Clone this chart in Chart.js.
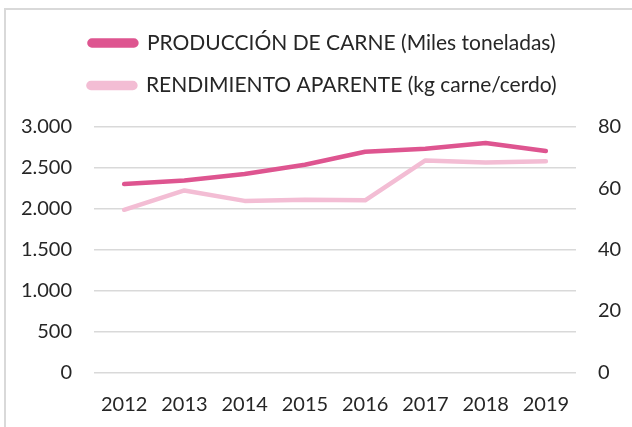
<!DOCTYPE html>
<html>
<head>
<meta charset="utf-8">
<script src="https://cdn.jsdelivr.net/npm/chart.js@4.4.0/dist/chart.umd.min.js"></script>
<style>
  html, body { margin: 0; padding: 0; background: #fff; }
  #wrap { position: relative; width: 632px; height: 427px; }
  #frame { position: absolute; left: 4px; top: 8px; right: 0; bottom: 0; border-top: 2px solid #d9d9d9; border-left: 2px solid #d9d9d9; pointer-events: none; }
  canvas { position: absolute; left: 0; top: 0; }
</style>
</head>
<body>
<div id="wrap">
  <canvas id="c" width="632" height="427"></canvas>
  <div id="frame"></div>
</div>
<script>
const years = ['2012', '2013', '2014', '2015', '2016', '2017', '2018', '2019'];
const produccion = [2302, 2346, 2424, 2538, 2698, 2734, 2804, 2706];
const rendimiento = [53.0, 59.3, 55.9, 56.3, 56.1, 69.1, 68.4, 68.8];
const leftTicks = [0, 500, 1000, 1500, 2000, 2500, 3000];
const rightTicks = [0, 20, 40, 60, 80];
const labelProd = 'PRODUCCIÓN DE CARNE (Miles toneladas)';
const labelRend = 'RENDIMIENTO APARENTE (kg carne/cerdo)';

const FONT = 'Lato';
const TXT = '#262626';

const legendHeightPlugin = {
  id: 'legendHeight',
  beforeLayout(chart) {
    const lg = chart.legend;
    if (lg && !lg._patched) {
      const protoFit = Object.getPrototypeOf(lg).fit;
      lg.fit = function () { protoFit.call(this); this.height = 116; };
      lg._patched = true;
    }
  }
};

new Chart(document.getElementById('c'), {
  type: 'line',
  data: {
    labels: years,
    datasets: [
      { label: labelProd, data: produccion, yAxisID: 'y', borderColor: '#DE5590', backgroundColor: '#DE5590',
        borderWidth: 4.5, pointRadius: 0, tension: 0, borderCapStyle: 'round', borderJoinStyle: 'round' },
      { label: labelRend, data: rendimiento, yAxisID: 'y2', borderColor: '#F3BDD4', backgroundColor: '#F3BDD4',
        borderWidth: 4.5, pointRadius: 0, tension: 0, borderCapStyle: 'round', borderJoinStyle: 'round' }
    ]
  },
  plugins: [legendHeightPlugin],
  options: {
    responsive: false,
    animation: false,
    layout: { padding: { top: 11, bottom: 0, left: 13, right: 0 } },
    plugins: {
      tooltip: { enabled: false },
      legend: {
        position: 'top',
        align: 'center',
        labels: {
          font: { family: FONT, size: 21 },
          color: TXT,
          boxWidth: 47,
          boxHeight: 5,
          padding: 21.5,
          useBorderRadius: true,
          borderRadius: 2.5
        }
      }
    },
    scales: {
      x: {
        offset: true,
        grid: { display: false, drawTicks: false },
        border: { display: false },
        afterFit: (s) => { s.height = 427 - 372.3; },
        ticks: { font: { family: FONT, size: 20 }, color: TXT, padding: 20, maxRotation: 0 }
      },
      y: {
        position: 'left',
        min: 0, max: 3000,
        afterBuildTicks: (s) => { s.ticks = leftTicks.map(v => ({ value: v })); },
        afterFit: (s) => { s.width = 81; },
        grid: { color: '#d9d9d9', lineWidth: 1.5, drawTicks: false },
        border: { display: false },
        ticks: {
          font: { family: FONT, size: 20 }, color: TXT, padding: 22,
          callback: (v) => v.toLocaleString('de-DE')
        }
      },
      y2: {
        position: 'right',
        min: 0, max: 80,
        afterBuildTicks: (s) => { s.ticks = rightTicks.map(v => ({ value: v })); },
        afterFit: (s) => { s.width = 56; },
        grid: { display: false, drawTicks: false },
        border: { display: false },
        ticks: { font: { family: FONT, size: 20 }, color: TXT, padding: 22 }
      }
    }
  }
});
</script>
</body>
</html>
